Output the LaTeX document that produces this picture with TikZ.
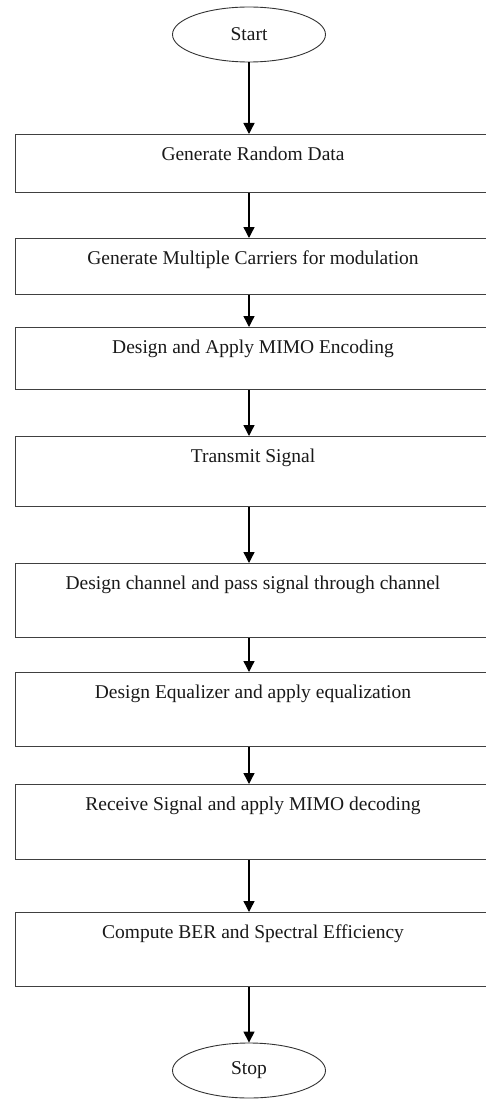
\documentclass[tikz,border=0pt]{standalone}
\usepackage{fontspec}
\setmainfont{Liberation Serif}
\usetikzlibrary{shapes.geometric,arrows.meta}
\begin{document}
\begin{tikzpicture}[x=1pt,y=-1pt,
  every node/.style={font=\fontsize{19.5}{23}\selectfont, text=black!90},
  term/.style={ellipse, draw=black!80, line width=0.9pt, minimum width=153pt, minimum height=55pt, inner sep=0pt},
  procbox/.style={rectangle, draw=black!75, line width=1pt, anchor=north, minimum width=476pt, inner xsep=0pt, inner ysep=0pt, text height=26pt},
  arr/.style={draw=black, line width=1.4pt, -{Triangle[length=11pt,width=11pt]}}
]
\useasboundingbox (0,0) rectangle (485,1105);
\node[term] (start) at (249,34.5) {Start};
\node[procbox, text depth=32pt] (b1) at (253,134) {Generate Random Data};
\node[procbox, text depth=30pt] (b2) at (253,238) {Generate Multiple Carriers for modulation};
\node[procbox, text depth=36pt] (b3) at (253,327) {Design and Apply MIMO Encoding};
\node[procbox, text depth=44pt] (b4) at (253,436) {Transmit Signal};
\node[procbox, text depth=48pt] (b5) at (253,563) {Design channel and pass signal through channel};
\node[procbox, text depth=48pt] (b6) at (253,672) {Design Equalizer and apply equalization};
\node[procbox, text depth=49pt] (b7) at (253,784) {Receive Signal and apply MIMO decoding};
\node[procbox, text depth=48pt] (b8) at (253,912) {Compute BER and Spectral Efficiency};
\node[term] (stop) at (249,1070.5) {Stop};
\draw[arr] (start.south) -- (b1.north -| start);
\draw[arr] (b1.south -| start) -- (b2.north -| start);
\draw[arr] (b2.south -| start) -- (b3.north -| start);
\draw[arr] (b3.south -| start) -- (b4.north -| start);
\draw[arr] (b4.south -| start) -- (b5.north -| start);
\draw[arr] (b5.south -| start) -- (b6.north -| start);
\draw[arr] (b6.south -| start) -- (b7.north -| start);
\draw[arr] (b7.south -| start) -- (b8.north -| start);
\draw[arr] (b8.south -| start) -- (stop.north);
\end{tikzpicture}
\end{document}
